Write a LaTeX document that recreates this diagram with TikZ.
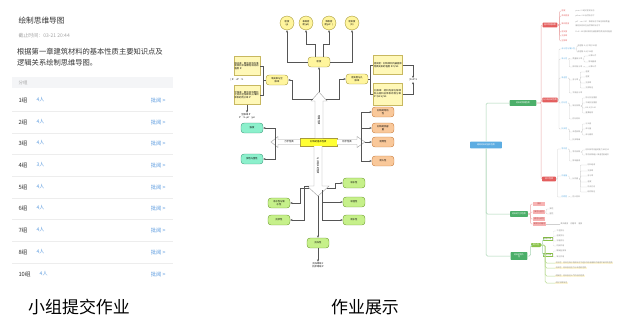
\documentclass[tikz,border=0pt]{standalone}
\usepackage{fontspec}
\setmainfont{Noto Sans CJK SC}
\XeTeXlinebreaklocale "zh"
\XeTeXlinebreakskip = 0pt plus 1pt
\usetikzlibrary{positioning,arrows.meta}
\definecolor{txtdark}{HTML}{333333}
\definecolor{txtgray}{HTML}{A3A3A3}
\definecolor{linkblue}{HTML}{5B9BE0}
\definecolor{bandgray}{HTML}{F4F5F7}
\definecolor{sepgray}{HTML}{EDEDED}
\definecolor{topicfill}{HTML}{FFF59D}
\definecolor{topicbd}{HTML}{A89A3A}
\definecolor{notefill}{HTML}{FFF8B8}
\definecolor{notebd}{HTML}{C8B860}
\definecolor{mainfill}{HTML}{FFFF33}
\definecolor{tealfill}{HTML}{8CF0CC}
\definecolor{tealbd}{HTML}{3F9F7F}
\definecolor{orangefill}{HTML}{F9C89A}
\definecolor{orangebd}{HTML}{C87A3A}
\definecolor{greenfill}{HTML}{C6F08A}
\definecolor{greenbd}{HTML}{6E9E2E}
\definecolor{connline}{HTML}{555555}
\definecolor{mmblue}{HTML}{5DADE2}
\definecolor{mmgreen}{HTML}{4CAF6A}
\definecolor{mmolive}{HTML}{8BC34A}
\definecolor{mmred}{HTML}{E35D5D}
\definecolor{mmpink}{HTML}{F7B3B3}
\definecolor{mmtrunk}{HTML}{A9D5B5}
\definecolor{mmredline}{HTML}{EBA9A9}
\definecolor{mmgray}{HTML}{D0D0D0}
\definecolor{mmtext}{HTML}{8A8A8A}
\definecolor{mmyellow}{HTML}{FFE98A}
\begin{document}
\begin{tikzpicture}[x=1bp,y=-1bp,
    tiny/.style={font=\fontsize{2.3}{2.8}\selectfont,inner sep=0.6,align=center},
    topic/.style={tiny,draw=topicbd,fill=topicfill,rounded corners=3,minimum width=22,minimum height=10,line width=0.4},
    bubble/.style={tiny,circle,draw=topicbd,fill=topicfill,minimum size=14,inner sep=0,line width=0.4},
    note/.style={tiny,draw=notebd,fill=notefill,text width=25,minimum height=19,align=left,line width=0.3},
    mainbox/.style={tiny,draw=topicbd,fill=mainfill,minimum width=37,minimum height=8,line width=0.4},
    tealbox/.style={topic,draw=tealbd,fill=tealfill},
    orangebox/.style={topic,draw=orangebd,fill=orangefill},
    greenbox/.style={topic,draw=greenbd,fill=greenfill},
    conn/.style={draw=connline,line width=0.35,-{Stealth[length=2.4,width=2]}},
    plain/.style={draw=connline,line width=0.35},
    hollow/.style={draw=gray!70,fill=white,line width=0.45},
    mmbox/.style={font=\fontsize{2}{2.4}\selectfont,text=white,rounded corners=0.8,inner sep=0.7,align=center},
    mmitem/.style={font=\fontsize{1.9}{2.3}\selectfont,inner sep=0.5,anchor=west},
    trunk/.style={draw=mmtrunk,line width=0.5,rounded corners=1.5},
    redline/.style={draw=mmredline,line width=0.4,rounded corners=1},
    grayline/.style={draw=mmgray,line width=0.25,rounded corners=0.8}]
\useasboundingbox (0,0) rectangle (640,333);
\fill[white] (0,0) rectangle (640,333);

% 小组提交作业
\begin{scope}
    \node[anchor=west,font=\fontsize{7.7}{9}\selectfont,text=txtdark] (title) at (15,21) {绘制思维导图};
    \node[anchor=west,font=\fontsize{5}{6}\selectfont,text=txtgray] (due) at (15,36) {截止时间：03-21 20:44};
    \node[anchor=north west,font=\fontsize{7.3}{10.5}\selectfont,text=txtdark,inner sep=0,align=left] (desc) at (17,48.5)
        {根据第一章建筑材料的基本性质主要知识点及\\逻辑关系绘制思维导图。};
    \fill[bandgray] (12,77) rectangle (173,88);
    \node[anchor=west,font=\fontsize{4.5}{5}\selectfont,text=txtgray] (band) at (15,82.5) {分组};
    \foreach \g/\cnt/\yy in {1/4/100,2/4/122,3/4/143,4/3/165,5/4/187,6/4/208,7/4/230,8/4/252,10/4/274} {
        \node[anchor=west,font=\fontsize{5.8}{7}\selectfont,text=txtdark] (grp\g) at (15,\yy) {\g 组};
        \node[anchor=west,font=\fontsize{5}{6}\selectfont,text=linkblue] (num\g) at ([xshift=2]grp\g.east) {\cnt 人};
        \node[anchor=east,font=\fontsize{5.3}{6}\selectfont,text=linkblue] (rev\g) at (169,\yy) {批阅 >};
    }
    \foreach \yy in {111,133,154,176,198,219,241,263}
        \draw[sepgray,line width=0.5] (12,\yy) -- (173,\yy);
    \node[font=\fontsize{17}{20}\selectfont] (lab1) at (79,307) {小组提交作业};
\end{scope}

% 作业展示：思维导图一
\begin{scope}
    % 中心
    \node[mainbox] (core) at (318.5,142) {材料的基本性质};
    \draw[hollow] (315,138) -- (315,101) -- (311,101) -- (319,92) -- (327,101) -- (323,101) -- (323,138);
    \node[tiny,rotate=-90] (upt) at (319,120) {物理性质};
    \draw[hollow] (300,139.5) -- (278,139.5) -- (278,136.5) -- (271,142) -- (278,147.5) -- (278,144.5) -- (300,144.5);
    \node[tiny] (lft) at (289,142) {力学性质};
    \draw[hollow] (337,139.5) -- (357,139.5) -- (357,136.5) -- (365,142) -- (357,147.5) -- (357,144.5) -- (337,144.5);
    \node[tiny] (rtt) at (347,142) {热学性质};
    \draw[hollow] (314,146) -- (314,186) -- (307,186) -- (318,196) -- (329,186) -- (322,186) -- (322,146);
    \node[tiny,rotate=-90] (dnt) at (318,166) {与水有关的性质};
    \coordinate (uptip) at (319,92);
    \coordinate (upL) at (312.5,99);
    \coordinate (upR) at (325.5,99);
    \coordinate (lfhead) at (275,142);
    \coordinate (rthead) at (361,142);
    \coordinate (rttip) at (365,142);
    \coordinate (dntip) at (318,196);
    \coordinate (dnL) at (309,188);
    \coordinate (dnM) at (322,190);
    \coordinate (dnR) at (327,188);
    % 上
    \node[topic] (dens) at (319,62) {密度};
    \node[bubble] (d1) at (287,23) {密度\\(ρ)};
    \node[bubble] (d2) at (306,23) {表观密\\度(ρ0)};
    \node[bubble] (d3) at (329,23) {堆积密\\度(ρ0')};
    \node[bubble] (d4) at (352,23) {密实度\\(D)};
    \draw[conn] (uptip) -- (dens.south);
    \draw[conn] (dens.west) -| (d1.south);
    \draw[conn] ([xshift=-4]dens.north) -- ++(0,-13) -| (d2.south);
    \draw[conn] ([xshift=4]dens.north) -- ++(0,-13) -| (d3.south);
    \draw[conn] (dens.east) -| (d4.south);
    \node[topic] (lfill) at (277,80) {填充率与空\\隙率};
    \node[topic] (rpor) at (357,79) {密实度与孔\\隙率};
    \draw[conn] (upL) -- (292,99) |- (lfill.east);
    \draw[conn] (upR) -- (339,99) |- (rpor.west);
    \node[note] (lf1) at (247,66) {填充率：散粒材料在堆积体积中被颗粒填充的程度 D'};
    \node[note] (lf2) at (247,95) {空隙率：散粒材料颗粒之间的空隙体积占堆积体积的百分率 P'};
    \node[note,text width=28] (rp1) at (388,65) {密实度：材料体积内被固体物质充实的程度 D=V/V0};
    \node[note,text width=28,minimum height=22] (rp2) at (388,94) {孔隙率：材料内部孔隙体积占材料总体积的百分率 P=(V0-V)/V0};
    \draw[plain] (lfill.west) -- ++(-3,0) |- (lf1.east);
    \draw[plain] (lfill.west) -- ++(-3,0) |- (lf2.east);
    \draw[plain] (rpor.east) -- ++(2,0) |- (rp1.west);
    \draw[plain] (rpor.east) -- ++(2,0) |- (rp2.west);
    \node[tiny] (llab) at (237,80) {[ D'+P'=1};
    \node[tiny] (rlab) at (413,80) {[ D+P=1};
    \draw[conn] (rp1.east) -| (rlab.north);
    \draw[conn] (rp2.east) -| (rlab.south);
    \node[tiny] (ltxt) at (247,116) {空隙率 P'\\P'=1-ρ0'/ρ0};
    \draw[conn] (lf2.south) -- (ltxt.north);
    % 左
    \node[tealbox] (m1) at (252,128) {强度};
    \node[tealbox] (m2) at (252,159) {弹性与塑性};
    \draw[conn] (lfhead) |- (m1.east);
    \draw[conn] (lfhead) |- (m2.east);
    % 右
    \node[orangebox] (h1) at (383,112) {材料的导热\\性};
    \node[orangebox] (h2) at (383,128) {材料的热容\\量};
    \node[orangebox] (h3) at (383,142) {耐燃性};
    \node[orangebox] (h4) at (383,161) {耐火性};
    \draw[conn] (rthead) |- (h1.west);
    \draw[conn] (rthead) |- (h2.west);
    \draw[conn] (rttip) -- (h3.west);
    \draw[conn] (rthead) |- (h4.west);
    % 下
    \node[greenbox] (w1) at (354,183) {吸水性};
    \node[greenbox] (w2) at (354,202) {吸湿性};
    \node[greenbox] (w3) at (354,220) {耐水性};
    \node[greenbox] (w4) at (279,203) {亲水性与憎\\水性};
    \node[greenbox] (w5) at (279,220) {抗渗性};
    \node[greenbox] (w6) at (318,243) {抗冻性};
    \draw[conn] (dnR) -- ++(8,0) |- (w1.west);
    \draw[conn] (dnM) |- (w2.west);
    \draw[conn] (dnM) |- (w3.west);
    \draw[conn] (dnL) -- ++(-9,0) |- (w4.east);
    \draw[conn] ([yshift=2]dnL) -- ++(-5,0) |- (w5.east);
    \draw[conn] (dntip) -- (w6.north);
    \node[tiny] (btxt) at (318,265) {抗冻等级 F\\抗渗等级 P};
    \draw[conn] (w6.south) -- (btxt.north);
    \node[font=\fontsize{17}{20}\selectfont] (lab2) at (365,307) {作业展示};
\end{scope}

% 作业展示：思维导图二
\begin{scope}
    \node[mmbox,fill=mmblue,minimum width=32,minimum height=7] (root) at (486,145) {建筑材料的基本性质};
    \node[mmbox,fill=mmgreen,minimum width=27,minimum height=6] (phy) at (523,103) {材料的物理性质};
    \node[mmbox,fill=mmgreen,minimum width=18,minimum height=6] (mech) at (519,214) {材料的力学性质};
    \node[mmbox,fill=mmgreen,minimum width=17,minimum height=8] (dura) at (519,256) {材料的耐久\\性};
    \draw[trunk] (root.north) |- (phy.west);
    \draw[trunk] (root.south) |- (mech.west);
    \draw[trunk] (root.south) |- (dura.west);
    \node[mmbox,fill=mmred,minimum width=15,minimum height=5] (rA) at (550,25) {基本物理参数};
    \node[mmbox,fill=mmred,minimum width=15,minimum height=5] (rB) at (550,100) {与水有关的性质};
    \node[mmbox,fill=mmred,minimum width=14,minimum height=5] (rC) at (549,179) {热工性质};
    \foreach \nm in {rA,rB,rC}
        \draw[redline] (phy.east) -- ++(4.5,0) |- (\nm.west);
    \foreach \yy/\txt [count=\i] in {11/密度,16/表观密度,24/堆积密度,32/密实度,36/孔隙率,41/空隙率} {
        \node[mmitem,text=mmred] (a\i) at (561,\yy) {\txt};
        \draw[redline] (rA.east) -- ++(2,0) |- (a\i.west);
    }
    \node[mmitem,text=mmtext] (a1t) at (575,11) {ρ=m÷V 绝对密实状态};
    \node[mmitem,text=mmtext] (a2t) at (575,16) {ρ0=m÷V0 自然状态下};
    \node[mmitem,text=mmtext] (a3t) at (575,22) {ρ0'=m÷V0' 堆积状态下单位体积质量};
    \node[mmitem,text=mmtext] (a3u) at (575,26) {散粒状材料在自然堆积状态下};
    \node[mmitem,text=mmtext] (a4t) at (575,32) {D=V÷V0 材料体积内被固体物质充实的程度};
    % 与水有关的性质 / 热工性质
    \foreach \pa/\xx/\yy/\txt/\nm/\cl in {
        rB/561/49/亲水性与憎水性/b1/mmblue,
        b1/577/46/润湿角 θ 小于等于90度/b11/mmtext,
        b1/577/52/润湿角 θ 大于90度/b12/mmtext,
        rB/561/59/吸水性/b2/mmblue,
        b2/572/59/质量吸水率/b21/mmtext,
        b2/572/67/体积吸水率/b22/mmtext,
        b21/588/56/计算公式/b211/mmtext,
        b21/588/62/影响因素/b212/mmtext,
        b22/588/67/计算公式/b221/mmtext,
        rB/561/78/吸湿性/b3/mmblue,
        b3/572/80/含水率/b31/mmtext,
        b3/572/93/平衡含水率/b32/mmtext,
        b31/585/72/温度/b311/mmtext,
        b31/585/77/湿度/b312/mmtext,
        b31/585/83/孔隙率/b313/mmtext,
        b31/585/88/孔隙特征/b314/mmtext,
        rB/561/103/耐水性/b4/mmblue,
        b4/572/106/软化系数/b41/mmtext,
        b4/572/119/耐水材料/b42/mmtext,
        b41/585/98/饱水抗压强度/b411/mmtext,
        b41/585/103/干燥抗压强度/b412/mmtext,
        b41/585/108/KR 大于0.85/b413/mmtext,
        b41/585/113/重要结构/b414/mmtext,
        rB/561/129/抗渗性/b5/mmblue,
        b5/572/132/渗透系数/b51/mmtext,
        b5/572/140/抗渗等级/b52/mmtext,
        b51/585/124/水头差/b511/mmtext,
        b51/585/129/渗水量/b512/mmtext,
        b51/585/135/渗水面积/b513/mmtext,
        rC/561/149/导热性/k1/mmblue,
        k1/572/152/导热系数/k11/mmtext,
        k1/572/161/影响因素/k12/mmtext,
        k11/585/150/材料传导热量的能力 单位 W/k111/mmtext,
        k11/585/155/导热系数越小 保温性能越好/k112/mmtext,
        rC/561/176/热容量/k2/mmblue,
        k2/572/179/比热容/k21/mmtext,
        k21/587/165/材料组成/k211/mmtext,
        k21/587/171/孔隙率/k212/mmtext,
        k21/587/176/含水率/k213/mmtext,
        k21/587/182/温度/k214/mmtext,
        k21/587/187/热流方向/k215/mmtext,
        k21/587/192/结构特征/k216/mmtext,
        rC/561/197/耐燃性/k3/mmblue,
        k3/572/197/防火材料/k31/mmtext} {
        \node[mmitem,text=\cl] (\nm) at (\xx,\yy) {\txt};
        \draw[grayline] (\pa.east) -- ++(1.2,0) |- (\nm.west);
    }
    % 力学性质
    \foreach \yy/\txt [count=\i] in {204/强度,212/弹性与塑性,219/脆性与韧性,224/硬度与耐磨性} {
        \node[mmitem,fill=mmpink,text=mmred!80!black,minimum width=12,inner sep=0.7] (f\i) at (533,\yy) {\txt};
        \draw[redline] (mech.east) -- ++(2.5,0) |- (f\i.west);
    }
    \node[mmitem,text=mmtext] (f2a) at (549,209) {弹性};
    \node[mmitem,text=mmtext] (f2b) at (549,214) {塑性};
    \draw[grayline] (f2.east) -- ++(1,0) |- (f2a.west);
    \draw[grayline] (f2.east) -- ++(1,0) |- (f2b.west);
    \node[mmitem,text=mmtext] (f4a) at (560,224) {莫氏硬度 \quad 耐磨率 \quad 磨损};
    \draw[grayline] (f4.east) -- (f4a.west);
    % 耐久性
    \node[mmbox,fill=mmolive,minimum width=10,minimum height=4] (ol) at (536,245) {耐久性};
    \draw[trunk] (dura.east) -- ++(3,0) |- (ol.west);
    \node[mmitem,draw=mmolive,text=mmolive!70!black,inner sep=0.6] (o1) at (543,239) {物理作用};
    \node[mmitem,draw=mmolive,text=mmolive!70!black,inner sep=0.6] (o2) at (543,255) {化学作用};
    \draw[trunk] (ol.east) -- ++(1.5,0) |- (o1.west);
    \draw[trunk] (ol.east) -- ++(1.5,0) |- (o2.west);
    \foreach \yy/\txt [count=\i] in {231/干湿变化,236/温度变化,241/冻融变化,246/机械作用} {
        \node[mmitem,text=mmtext] (o1\i) at (556,\yy) {\txt};
        \draw[grayline] (o1.east) -- ++(1.2,0) |- (o1\i.west);
    }
    \foreach \yy/\txt [count=\i] in {251/酸碱盐侵蚀,257/氧化作用} {
        \node[mmitem,text=mmtext] (o2\i) at (556,\yy) {\txt};
        \draw[grayline] (o2.east) -- ++(1.2,0) |- (o2\i.west);
    }
    \foreach \yy/\txt [count=\i] in {263/抗冻性：材料在吸水饱和状态下经多次冻融循环作用而不破坏的性质,268/抗渗性：材料抵抗压力水渗透的性质,276/耐候性：材料抵抗大气作用的性质,283/耐化学腐蚀性} {
        \node[mmitem,text=mmtext,fill=mmyellow!35,inner sep=0.6] (y\i) at (555,\yy) {\txt};
        \draw[trunk,draw=mmolive!60] (ol.east) -- ++(4,0) |- (y\i.west);
    }
\end{scope}
\end{tikzpicture}
\end{document}
